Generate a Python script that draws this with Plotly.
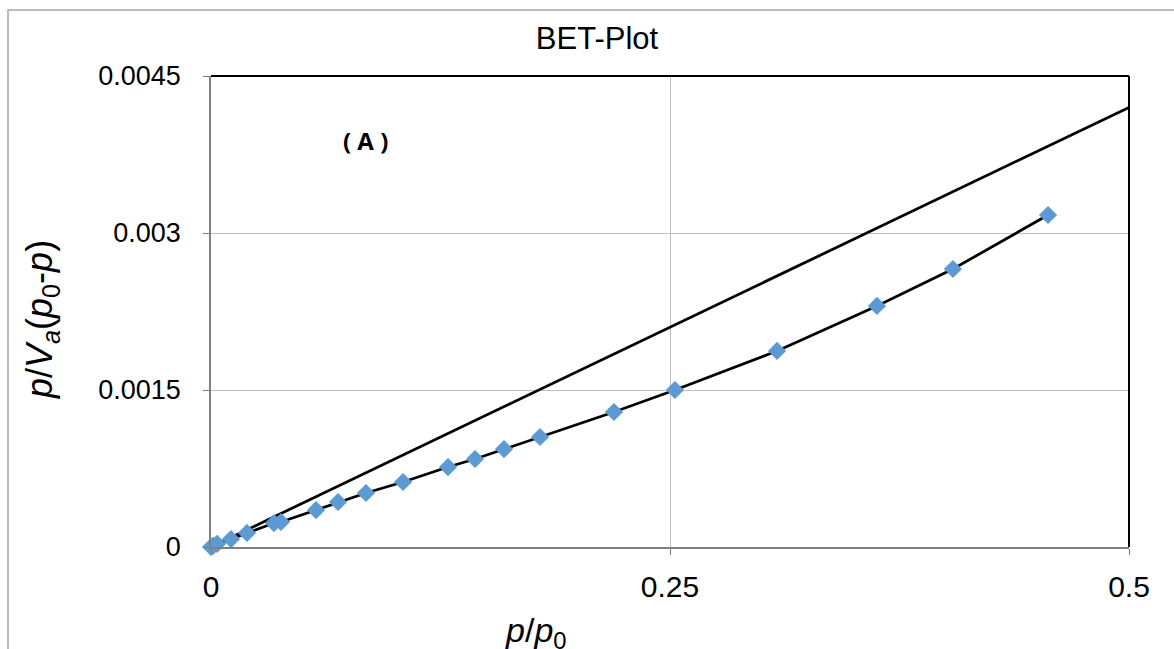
import plotly.graph_objects as go

# Measured data (p/p0, p/Va(p0-p))
x_data = [0.0, 0.0011, 0.0033, 0.0109, 0.0196, 0.0343, 0.0381, 0.0572, 0.0692, 0.0844,
          0.1046, 0.1291, 0.1438, 0.1596, 0.1792, 0.2195, 0.2527, 0.3083, 0.3627,
          0.4041, 0.4559]
y_data = [0.0, 0.00001, 0.00003, 0.000076, 0.000134, 0.000229, 0.000239, 0.000353,
          0.00043, 0.000516, 0.000621, 0.000764, 0.000841, 0.000936, 0.001051,
          0.00129, 0.0015, 0.001873, 0.002303, 0.002656, 0.003172]

# Reference straight line
line_x = [0.0, 0.5]
line_y = [0.0, 0.0042]

x_ticks = [0, 0.25, 0.5]
x_ticktext = ["0", "0.25", "0.5"]
y_ticks = [0, 0.0015, 0.003, 0.0045]
y_ticktext = ["0", "0.0015", "0.003", "0.0045"]

FONT = "Liberation Sans, Arial, sans-serif"

fig = go.Figure()
fig.add_trace(go.Scatter(x=line_x, y=line_y, mode="lines",
                         line=dict(color="black", width=2.75), showlegend=False,
                         cliponaxis=False))
fig.add_trace(go.Scatter(x=x_data, y=y_data, mode="lines+markers",
                         line=dict(color="black", width=2.75),
                         marker=dict(symbol="diamond", size=14, color="#5B9BD5"),
                         showlegend=False, cliponaxis=False))

fig.update_layout(
    width=1174, height=649,
    margin=dict(l=211, r=45, t=76, b=102),
    paper_bgcolor="white", plot_bgcolor="white",
    font=dict(family=FONT, size=26, color="black"),
    title=dict(text="BET-Plot", x=(597) / 1174, xanchor="center", y=1 - 38 / 649,
               yanchor="middle", font=dict(family=FONT, size=31, color="black")),
    xaxis=dict(range=[0, 0.5], tickvals=x_ticks, ticktext=x_ticktext,
               showgrid=True, gridcolor="#BFBFBF", gridwidth=1, zeroline=False,
               showline=True, linecolor="#7F7F7F", linewidth=1.5,
               ticks="outside", ticklen=6, tickcolor="#7F7F7F",
               ticklabelstandoff=6,
               tickfont=dict(family=FONT, size=30, color="black")),
    yaxis=dict(range=[0, 0.0045], tickvals=y_ticks, ticktext=y_ticktext,
               showgrid=True, gridcolor="#BFBFBF", gridwidth=1, zeroline=False,
               showline=True, linecolor="#7F7F7F", linewidth=1.5,
               ticks="outside", ticklen=6, tickcolor="#7F7F7F",
               ticklabelstandoff=17,
               tickfont=dict(family=FONT, size=27, color="black")),
)

# Black frame on top and right of plot area
fig.add_shape(type="line", xref="paper", yref="paper", x0=0, x1=1, y0=1, y1=1,
              line=dict(color="black", width=2))
fig.add_shape(type="line", xref="paper", yref="paper", x0=1, x1=1, y0=0, y1=1,
              line=dict(color="black", width=2))

# Outer chart border
fig.add_shape(type="rect", xref="paper", yref="paper",
              x0=(8 - 211) / 918, x1=(1190 - 211) / 918,
              y0=(547 - 670) / 471, y1=(547 - 10) / 471,
              line=dict(color="#A6A6A6", width=1.5), layer="below")

# Axis titles
fig.add_annotation(text="<i>p</i>/<i>V<sub>a</sub></i>(<i>p</i><sub>0</sub>-<i>p</i>)",
                   xref="paper", yref="paper",
                   x=(42 - 211) / 918, y=(547 - 320) / 471,
                   textangle=-90, showarrow=False,
                   xanchor="center", yanchor="middle",
                   font=dict(family=FONT, size=36, color="black"))
fig.add_annotation(text="<i>p</i>/<i>p</i><sub>0</sub>",
                   xref="paper", yref="paper",
                   x=(536 - 211) / 918, y=(547 - 632) / 471,
                   showarrow=False, xanchor="center", yanchor="middle",
                   font=dict(family=FONT, size=34, color="black"))

# Panel label
fig.add_annotation(text="<b>( A )</b>", x=0.084, y=0.00388, xref="x", yref="y",
                   showarrow=False, xanchor="center", yanchor="middle",
                   font=dict(family="Open Sans, Liberation Sans, sans-serif", size=24, color="black"))

fig.write_html("out.html")
